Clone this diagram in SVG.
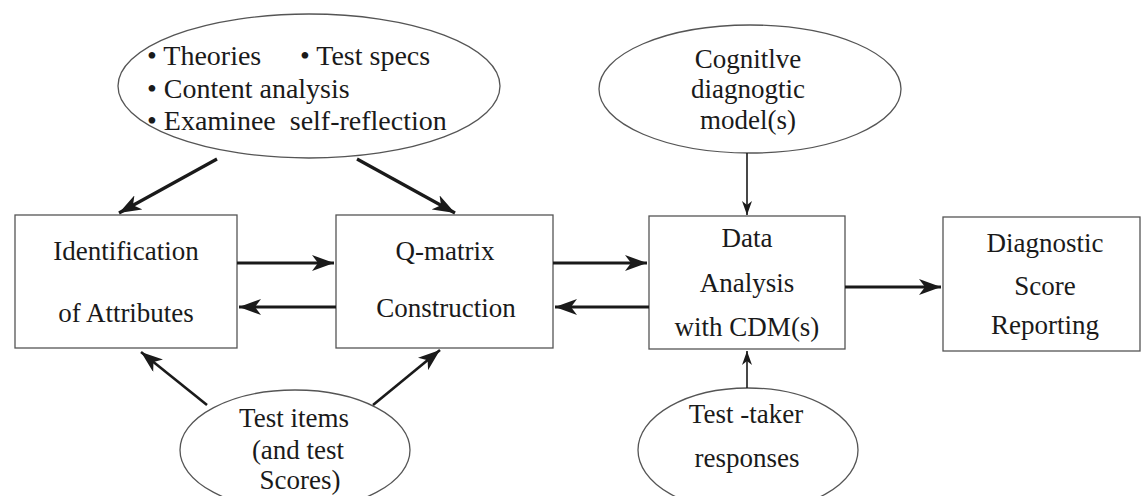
<svg xmlns="http://www.w3.org/2000/svg" width="1146" height="496" viewBox="0 0 1146 496" font-family="Liberation Serif, Times New Roman, Tinos, DejaVu Serif, serif">
<defs>
<style>
.node-shape{fill:#fff;stroke:#555;stroke-width:1.3}
text{font-family:"Liberation Serif",Tinos,"Times New Roman","DejaVu Serif",serif}
.t{font-size:27px;fill:#1a1a1a;text-anchor:middle}
.tl{font-size:28px;fill:#1a1a1a}
.thick{stroke:#1a1a1a;stroke-width:3.2;fill:none;marker-end:url(#ah)}
.mid{stroke:#1a1a1a;stroke-width:2.6;fill:none;marker-end:url(#ah)}
.thin{stroke:#1a1a1a;stroke-width:1.6;fill:none;marker-end:url(#ahs)}
</style>
<marker id="ah" markerUnits="userSpaceOnUse" viewBox="0 0 22 16" refX="22" refY="8" markerWidth="22" markerHeight="16" orient="auto">
<path d="M0,0 L22,8 L0,16 L6,8 Z" fill="#1a1a1a"/>
</marker>
<marker id="ahs" markerUnits="userSpaceOnUse" viewBox="0 0 14 10" refX="14" refY="5" markerWidth="14" markerHeight="10" orient="auto">
<path d="M0,0 L14,5 L0,10 L4,5 Z" fill="#1a1a1a"/>
</marker>
</defs>
<rect width="1146" height="496" fill="#fff"/>

<g id="sources">
<ellipse class="node-shape" cx="309" cy="86" rx="191" ry="72"/>
<text class="tl" x="147" y="65" font-family="Liberation Serif">• Theories</text>
<text class="tl" x="300" y="65" font-family="Liberation Serif">• Test specs</text>
<text class="tl" x="147" y="98" font-family="Liberation Serif">• Content analysis</text>
<text class="tl" x="147" y="130" font-family="Liberation Serif" xml:space="preserve">• Examinee  self-reflection</text>
</g>

<g id="cdm-models">
<ellipse class="node-shape" cx="750" cy="89" rx="151" ry="64"/>
<text class="t" x="748" y="68">Cognitlve</text>
<text class="t" x="748" y="98">diagnogtic</text>
<text class="t" x="748" y="129">model(s)</text>
</g>

<g id="identification">
<rect class="node-shape" x="15" y="215" width="222" height="133"/>
<text class="t" x="126" y="260">Identification</text>
<text class="t" x="126" y="322">of Attributes</text>
</g>

<g id="qmatrix">
<rect class="node-shape" x="336" y="215" width="217" height="133"/>
<text class="t" x="445" y="260">Q-matrix</text>
<text class="t" x="446" y="317">Construction</text>
</g>

<g id="analysis">
<rect class="node-shape" x="649" y="216" width="196" height="133"/>
<text class="t" x="747" y="247">Data</text>
<text class="t" x="747" y="292">Analysis</text>
<text class="t" x="747" y="336">with CDM(s)</text>
</g>

<g id="reporting">
<rect class="node-shape" x="943" y="217" width="197" height="134"/>
<text class="t" x="1045" y="252">Diagnostic</text>
<text class="t" x="1045" y="295">Score</text>
<text class="t" x="1045" y="334">Reporting</text>
</g>

<g id="test-items">
<ellipse class="node-shape" cx="295" cy="450" rx="115" ry="60"/>
<text class="t" x="294" y="427">Test items</text>
<text class="t" x="298" y="459">(and test</text>
<text class="t" x="300" y="489">Scores)</text>
</g>

<g id="responses">
<ellipse class="node-shape" cx="748" cy="450" rx="110" ry="62"/>
<text class="t" x="746" y="423">Test -taker</text>
<text class="t" x="747" y="467">responses</text>
</g>

<g id="connectors">
<line class="thick" x1="217" y1="159" x2="119" y2="213"/>
<line class="thick" x1="357" y1="159" x2="455" y2="213"/>
<line class="thick" x1="237" y1="263" x2="334" y2="263"/>
<line class="thick" x1="336" y1="307" x2="239" y2="307"/>
<line class="thick" x1="553" y1="263" x2="647" y2="263"/>
<line class="thick" x1="649" y1="307" x2="555" y2="307"/>
<line class="thick" x1="845" y1="287" x2="941" y2="287"/>
<line class="thin" x1="747" y1="153" x2="747" y2="215"/>
<line class="thin" x1="747" y1="388" x2="747" y2="351"/>
<line class="mid" x1="207" y1="405" x2="141" y2="352"/>
<line class="mid" x1="373" y1="405" x2="440" y2="350"/>
</g>
</svg>
